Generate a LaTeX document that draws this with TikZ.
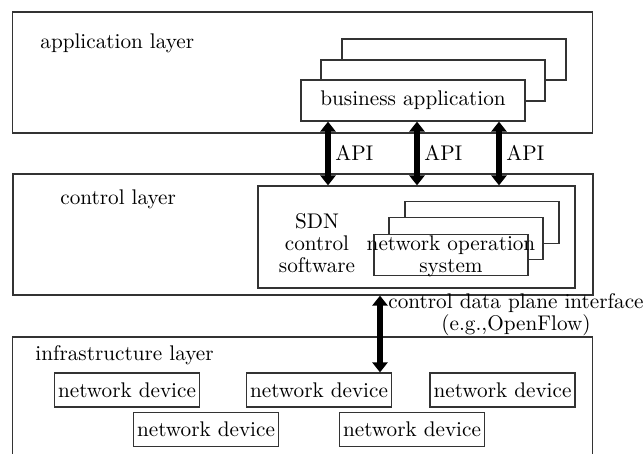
\documentclass[tikz,border=0pt]{standalone}
\usepackage{tikz}
\usetikzlibrary{arrows.meta, positioning, calc}

\begin{document}
\begin{tikzpicture}[x=0.5pt, y=-0.5pt,
    font=\fontsize{10.6}{11}\selectfont,
    layerbox/.style={draw=black!80, line width=0.6pt, minimum width=290pt, inner sep=0pt},
    appbox/.style={draw=black!80, line width=0.6pt, fill=white, minimum width=112pt, minimum height=20.5pt, inner sep=0pt},
    nosbox/.style={draw=black!80, line width=0.6pt, fill=white, minimum width=77pt, minimum height=20.8pt, inner sep=0pt},
    devbox/.style={draw=black!80, line width=0.6pt, minimum width=72.5pt, minimum height=17pt, inner sep=0pt},
    bigarrow/.style={line width=2.6pt, {Triangle[length=5pt,width=7.5pt]}-{Triangle[length=5pt,width=7.5pt]}}]
    \useasboundingbox (0,0) rectangle (643,454);

    % application layer
    \node[layerbox, minimum height=60.5pt] (applayer) at (302.5,72.5) {};
    \node[right, inner sep=0pt] (applbl) at (40,43) {application layer};
    \node[appbox] (ba3) at (454,59.5) {};
    \node[appbox] (ba2) at (433,80.5) {};
    \node[appbox] (ba1) at (413,100.5) {business application};

    % control layer
    \node[layerbox, minimum height=60.5pt] (ctrl) at (303,234.5) {};
    \node[right, inner sep=0pt] (ctrllbl) at (60,199) {control layer};
    \node[draw=black!80, line width=0.6pt, minimum width=158.5pt, minimum height=51pt, inner sep=0pt] (sdn) at (416.5,237) {};
    \node[align=center, inner sep=0pt] (sdnlbl) at (317,243) {SDN\\control\\software};
    \node[nosbox] (nos3) at (482,222.5) {};
    \node[nosbox] (nos2) at (466,238.5) {};
    \node[nosbox] (nos1) at (451,255) {};
    \node[align=center, inner sep=0pt] (noslbl) at (451,256) {network operation\\system};

    % API
    \coordinate (a1) at (328,0);
    \coordinate (a2) at (417,0);
    \coordinate (a3) at (499,0);
    \foreach \a in {a1,a2,a3} {
        \draw[bigarrow] (ba1.south -| \a) -- (sdn.north -| \a);
        \node[right, inner sep=0pt] (lbl\a) at ($(\a)+(7,153)$) {API};
    }

    % infrastructure layer
    \node[layerbox, minimum height=59pt] (infra) at (302.5,396) {};
    \node[right, inner sep=0pt] (infralbl) at (35,355) {infrastructure layer};
    \node[devbox] (nd1) at (127,390) {network device};
    \node[devbox] (nd2) at (319,390) {network device};
    \node[devbox] (nd3) at (502.5,390) {network device};
    \node[devbox] (nd4) at (206,429.5) {network device};
    \node[devbox] (nd5) at (412,429.5) {network device};

    % control data plane interface
    \coordinate (c1) at (380,0);
    \draw[bigarrow] (ctrl.south -| c1) -- (nd2.north -| c1);
    \node[align=center, inner sep=0pt] (cdplbl) at (516,315) {control data plane interface\\(e.g.,OpenFlow)};
\end{tikzpicture}
\end{document}
